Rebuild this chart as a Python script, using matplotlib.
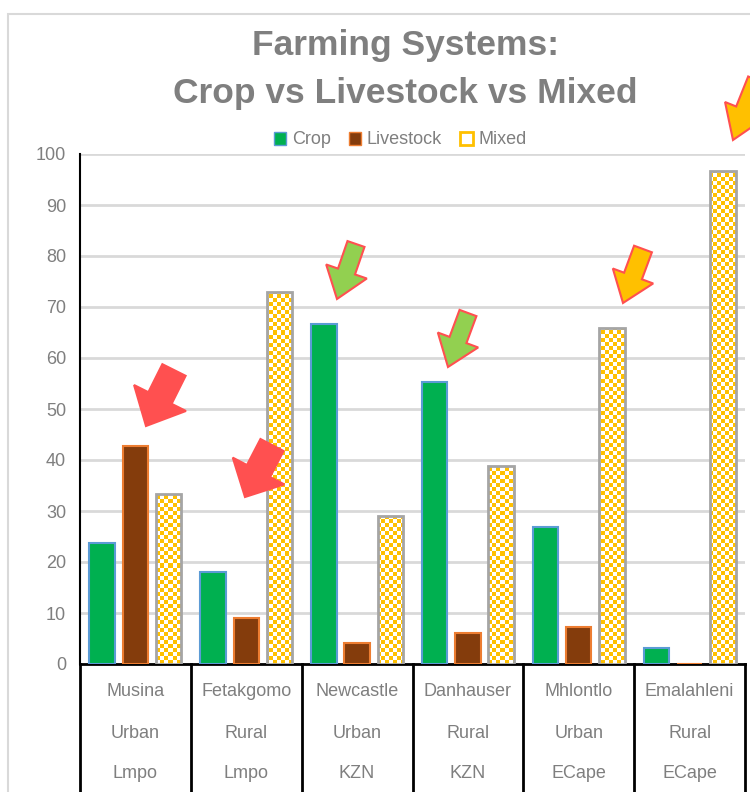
import numpy as np
import matplotlib
matplotlib.use("Agg")
import matplotlib.pyplot as plt
from matplotlib.patches import Patch, FancyArrow, Rectangle
from matplotlib.transforms import IdentityTransform

plt.rcParams['font.family'] = ['Liberation Sans', 'DejaVu Sans']

# municipalities (name, setting, province)
places = ["Musina", "Fetakgomo", "Newcastle", "Danhauser", "Mhlontlo", "Emalahleni"]
settings = ["Urban", "Rural", "Urban", "Rural", "Urban", "Rural"]
provinces = ["Lmpo", "Lmpo", "KZN", "KZN", "ECape", "ECape"]

crop = [23.8, 18.0, 66.7, 55.2, 26.9, 3.2]
livestock = [42.8, 9.0, 4.2, 6.1, 7.2, 0.0]
mixed = [33.3, 72.9, 29.0, 38.8, 65.8, 96.7]

GREY = "#7f7f7f"
W, H = 750, 792

fig = plt.figure(figsize=(W / 100, H / 100), dpi=100)
ax = fig.add_axes([80 / W, (H - 664) / H, 665 / W, 510 / H])

x = np.arange(len(places))
bw = 0.23
ax.bar(x - 0.3, crop, bw, color="#00b050", edgecolor="#5b9bd5", linewidth=1.5, zorder=3)
ax.bar(x, livestock, bw, color="#843c0c", edgecolor="#ed7d31", linewidth=1.5, zorder=3)
mix_bars = ax.bar(x + 0.3, mixed, bw, facecolor="none", edgecolor="#a5a5a5", linewidth=2, zorder=4)

# checkerboard fill for the mixed bars (4 px squares)
nx, ny = int(665 / 4), int(510 / 4)
checker = (np.add.outer(np.arange(ny), np.arange(nx)) % 2).astype(float)
cmap = matplotlib.colors.ListedColormap(["#ffc000", "white"])
for b in mix_bars:
    im = ax.imshow(checker, cmap=cmap, extent=(0, 1, 0, 1), transform=ax.transAxes,
                   interpolation="nearest", aspect="auto", zorder=3.5)
    im.set_clip_path(b)
ax.set_xlim(-0.5, len(places) - 0.5)
ax.set_ylim(0, 100)
ax.set_aspect("auto")

ax.set_yticks(range(0, 101, 10))
ax.yaxis.grid(True, color="#d9d9d9", linewidth=2, zorder=0)
ax.set_axisbelow(True)
ax.tick_params(axis="y", length=0, labelsize=13, labelcolor=GREY, pad=10)
ax.tick_params(axis="x", length=0)
ax.set_xticks([])
for s in ["top", "right"]:
    ax.spines[s].set_visible(False)
ax.spines["left"].set_color("black")
ax.spines["left"].set_linewidth(1.5)
ax.spines["bottom"].set_color("black")
ax.spines["bottom"].set_linewidth(2)

# three-row category table under the axis
for k in range(len(places) + 1):
    ax.plot([k - 0.5, k - 0.5], [0, -30], color="black", lw=2, clip_on=False, zorder=5)
for i in range(len(places)):
    for row, txt in enumerate([places[i], settings[i], provinces[i]]):
        ax.annotate(txt, (i, 0), xytext=(0, -28 - 41 * row), textcoords="offset pixels",
                    ha="center", va="center", fontsize=13, color=GREY)

fig.text(405 / W, (H - 45) / H, "Farming Systems:", ha="center", va="center",
         fontsize=25.5, fontweight="bold", color=GREY)
fig.text(405 / W, (H - 93) / H, "Crop vs Livestock vs Mixed", ha="center", va="center",
         fontsize=25.5, fontweight="bold", color=GREY)

handles = [Patch(facecolor="#00b050", edgecolor="#5b9bd5", label="Crop"),
           Patch(facecolor="#843c0c", edgecolor="#ed7d31", label="Livestock"),
           Patch(facecolor="white", edgecolor="#ffc000", linewidth=2, label="Mixed")]
fig.legend(handles=handles, loc="center", bbox_to_anchor=(400 / W, (H - 140) / H),
           ncol=3, frameon=False, fontsize=13, labelcolor=GREY, handlelength=0.7,
           handleheight=0.7, handletextpad=0.3, columnspacing=1.0)

# chart frame
fig.add_artist(Rectangle((8, -10), W, H - 4, transform=IdentityTransform(),
                         fill=False, edgecolor="#d9d9d9", linewidth=1.5))


def block_arrow(tail, tip, shaft, head, face):
    # tail/tip in image pixels (origin top-left)
    x0, y0 = tail[0], H - tail[1]
    dx, dy = tip[0] - tail[0], -(tip[1] - tail[1])
    length = np.hypot(dx, dy)
    fig.add_artist(FancyArrow(x0, y0, dx, dy, width=shaft, head_width=head,
                              head_length=length * 0.5, length_includes_head=True,
                              transform=IdentityTransform(), facecolor=face,
                              edgecolor="#ff5050", linewidth=1.5, zorder=10))


block_arrow((174, 370), (146, 426), 26, 58, "#ff5050")
block_arrow((272, 445), (245, 497), 26, 58, "#ff5050")
block_arrow((356, 244), (337, 299), 18, 43, "#92d050")
block_arrow((468, 313), (448, 367), 18, 43, "#92d050")
block_arrow((643, 249), (623, 303), 19, 43, "#ffc000")
block_arrow((757, 80), (733, 140), 19, 43, "#ffc000")

fig.savefig("out.png", dpi=100)
